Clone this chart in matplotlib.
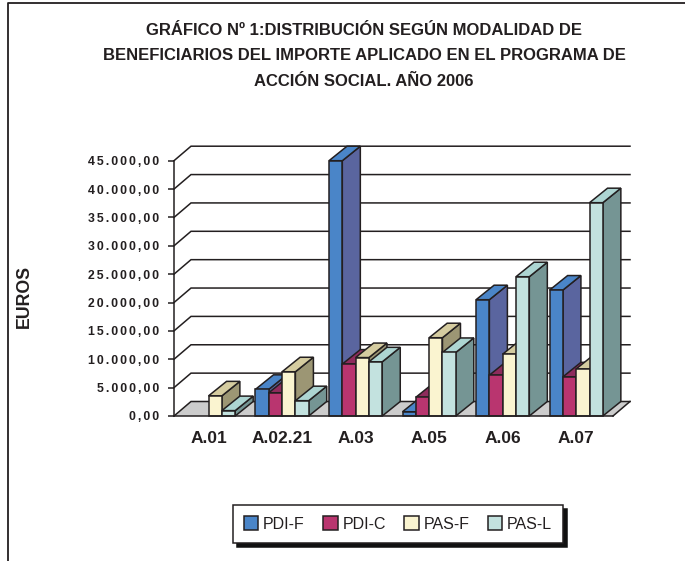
import matplotlib
matplotlib.use('Agg')
import matplotlib.pyplot as plt
from matplotlib.lines import Line2D
from matplotlib.patches import Patch, Polygon

plt.rcParams['font.family'] = ['Liberation Sans', 'DejaVu Sans']

title = 'GRÁFICO Nº 1:DISTRIBUCIÓN SEGÚN MODALIDAD DE\nBENEFICIARIOS DEL IMPORTE APLICADO EN EL PROGRAMA DE\nACCIÓN SOCIAL. AÑO 2006'
categories = ['A.01', 'A.02.21', 'A.03', 'A.05', 'A.06', 'A.07']
series_names = ['PDI-F', 'PDI-C', 'PAS-F', 'PAS-L']
pdi_f = [0, 4700, 45000, 750, 20500, 22200]
pdi_c = [0, 4100, 9150, 3300, 7200, 6900]
pas_f = [3550, 7800, 10300, 13800, 10900, 8300]
pas_l = [950, 2700, 9550, 11200, 24550, 37600]
y_ticks = [0, 5000, 10000, 15000, 20000, 25000, 30000, 35000, 40000, 45000]

# front, top, side colours of each series
front_colors = ['#4A85C8', '#B9356F', '#FAF4D0', '#C3E2DF']
top_colors = ['#4A85C8', '#8E2C5C', '#D5CCA0', '#ADD5D2']
side_colors = ['#5A659F', '#8E2C5C', '#9C9674', '#759594']
ink = '#231F20'

W, H = 685, 561
fig = plt.figure(figsize=(W / 100, H / 100), dpi=100, facecolor='white')
ax = fig.add_axes([174 / W, 1 - 416 / H, 439 / W, 255.3 / H])
ax.set_xlim(-0.47, 5.5)
ax.set_ylim(0, 45000)
ax.patch.set_visible(False)

# oblique depth of the fake 3D, in data units
depth_x = 17 / 439 * 5.97
depth_y = 14.5 / 255.3 * 45000
bar_depth_x = 18 / 439 * 5.97
bar_w = 0.181
x0, x1 = ax.get_xlim()

# floor and walls
ax.add_patch(Polygon([(x0, 0), (x1, 0), (x1 + depth_x, depth_y), (x0 + depth_x, depth_y)],
                     closed=True, fc='#CCCCCC', ec='none', clip_on=False, zorder=1))
for t in y_ticks:
    ax.plot([x0, x0 + depth_x, x1 + depth_x], [t, t + depth_y, t + depth_y],
            color=ink, lw=1.1, clip_on=False, zorder=2, solid_joinstyle='miter')
ax.plot([x1, x1 + depth_x], [0, depth_y], color=ink, lw=1.1, clip_on=False, zorder=2)


def draw_bar(x, v, i, z):
    xr = x + bar_w
    side = [(xr, 0), (xr + bar_depth_x, depth_y), (xr + bar_depth_x, v + depth_y), (xr, v)]
    top = [(x, v), (xr, v), (xr + bar_depth_x, v + depth_y), (x + bar_depth_x, v + depth_y)]
    front = [(x, 0), (xr, 0), (xr, v), (x, v)]
    for pts, col in [(side, side_colors[i]), (top, top_colors[i]), (front, front_colors[i])]:
        ax.add_patch(Polygon(pts, closed=True, fc=col, ec=ink, lw=1.1, clip_on=False,
                             zorder=z, joinstyle='miter'))


values = [pdi_f, pdi_c, pas_f, pas_l]
z = 3
for c in range(len(categories)):
    for i in range(len(series_names)):
        v = values[i][c]
        if v > 0:
            draw_bar(c + (i - 2) * bar_w, v, i, z)
        z += 1

for s in ['top', 'right']:
    ax.spines[s].set_visible(False)
for s in ['left', 'bottom']:
    ax.spines[s].set_color(ink)
    ax.spines[s].set_linewidth(1.1)
    ax.spines[s].set_zorder(100)

ax.set_xticks(range(len(categories)))
ax.set_xticklabels(categories, fontsize=12.5, fontweight='bold', color=ink)
ax.tick_params(axis='x', length=0, pad=11)

ax.set_yticks(y_ticks)
ax.set_yticklabels(['\u200a\u200a'.join(f'{t:,.2f}'.replace(',', 'X').replace('.', ',').replace('X', '.'))
                    for t in y_ticks], fontsize=8.8, fontweight='bold', color=ink)
ax.tick_params(axis='y', length=4, width=1.1, color=ink, pad=6.5)

fig.text(364 / W, 1 - 56 / H, title, ha='center', va='center', fontsize=12, fontweight='bold',
         color=ink, linespacing=1.85)
fig.text(24 / W, 1 - 296 / H, 'EUROS', ha='center', va='center', rotation=90, fontsize=12.8,
         fontweight='bold', color=ink)

# page frame
fig.add_artist(Line2D([7.5 / W, 7.5 / W, 1], [0, 1 - 3 / H, 1 - 3 / H], color=ink, lw=1.3))

handles = [Patch(fc=c, ec=ink, lw=1.1) for c in front_colors]
leg = fig.legend(handles, series_names, ncol=4, loc='center', bbox_to_anchor=(398 / W, 1 - 524 / H),
                 fontsize=11.5, frameon=True, fancybox=False, framealpha=1, edgecolor=ink,
                 shadow={'color': '#111111', 'alpha': 1, 'ox': 3, 'oy': -3},
                 handlelength=0.9, handleheight=0.9, handletextpad=0.3, columnspacing=1.15,
                 borderpad=0.7, labelcolor=ink)
leg.get_frame().set_linewidth(1.1)

fig.savefig('out.png', dpi=100)
